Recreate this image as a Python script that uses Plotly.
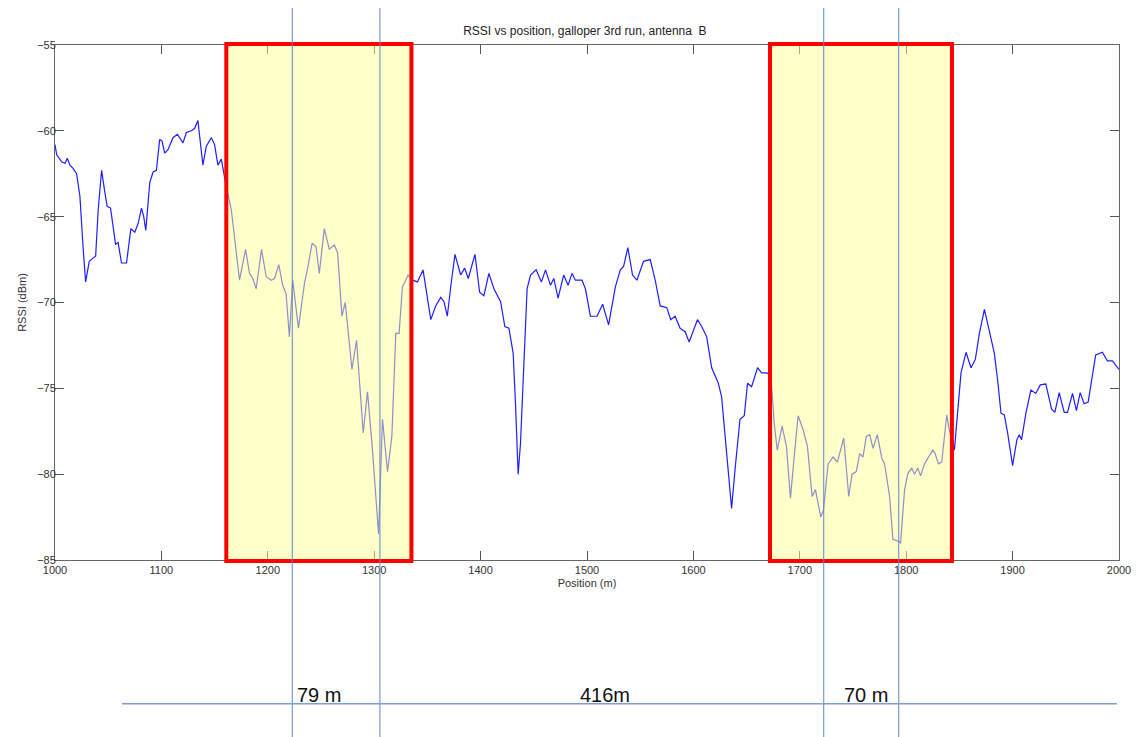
import plotly.graph_objects as go

# RSSI trace
position = [1000.0, 1001.6, 1006.3, 1009.4, 1011.5, 1014.1, 1017.2, 1020.3, 1023.4, 1025.6,
            1026.5, 1028.8, 1032.2, 1035.9, 1038.2, 1040.6, 1043.8, 1046.9, 1049.0, 1052.2,
            1054.7, 1056.9, 1059.3, 1062.5, 1067.2, 1071.3, 1075.0, 1078.1, 1081.3, 1083.4,
            1085.3, 1089.1, 1092.2, 1095.3, 1098.4, 1100.6, 1103.1, 1106.2, 1110.9, 1115.0,
            1120.3, 1123.5, 1128.2, 1131.3, 1134.3, 1136.9, 1139.0, 1142.2, 1146.9, 1150.0,
            1153.1, 1156.3, 1161.0, 1165.7, 1170.3, 1173.4, 1179.1, 1182.8, 1185.9, 1189.1,
            1194.1, 1198.5, 1203.2, 1206.3, 1210.3, 1214.0, 1217.2, 1220.3, 1223.4, 1228.8,
            1234.4, 1237.5, 1241.6, 1245.3, 1248.4, 1253.1, 1257.8, 1262.5, 1265.6, 1269.7,
            1272.8, 1279.1, 1283.4, 1289.7, 1293.7, 1298.4, 1304.1, 1307.8, 1312.5, 1316.6,
            1320.3, 1323.4, 1326.5, 1331.9, 1335.9, 1340.6, 1345.9, 1350.0, 1353.2, 1357.8,
            1362.5, 1365.6, 1368.7, 1371.9, 1375.9, 1381.3, 1385.0, 1388.4, 1394.7, 1399.1,
            1403.1, 1407.8, 1412.5, 1418.8, 1422.8, 1426.6, 1430.6, 1432.8, 1435.3, 1437.5,
            1440.6, 1443.7, 1446.9, 1452.2, 1457.2, 1461.0, 1465.7, 1468.8, 1472.8, 1478.1,
            1482.2, 1485.9, 1489.1, 1495.3, 1498.5, 1503.2, 1509.4, 1514.7, 1520.3, 1526.6,
            1531.3, 1534.4, 1538.4, 1542.8, 1546.9, 1553.1, 1559.4, 1564.1, 1568.8, 1575.0,
            1578.7, 1582.8, 1587.5, 1592.2, 1596.0, 1600.0, 1603.8, 1607.8, 1612.5, 1617.2,
            1623.4, 1626.5, 1631.2, 1635.9, 1639.1, 1643.8, 1647.8, 1650.9, 1654.7, 1660.3,
            1664.1, 1668.8, 1672.8, 1675.9, 1678.8, 1683.4, 1687.5, 1691.2, 1694.7, 1698.4,
            1703.1, 1707.2, 1711.6, 1714.7, 1719.7, 1722.2, 1726.6, 1731.3, 1735.3, 1741.3,
            1746.0, 1749.1, 1753.1, 1756.3, 1759.4, 1762.5, 1765.7, 1768.8, 1772.8, 1777.2,
            1779.7, 1784.4, 1787.5, 1792.2, 1794.7, 1798.5, 1801.6, 1805.3, 1807.8, 1810.9,
            1813.5, 1817.2, 1821.0, 1825.0, 1827.2, 1830.3, 1833.4, 1838.1, 1840.7, 1845.3,
            1851.5, 1856.2, 1860.9, 1865.0, 1868.8, 1873.5, 1877.2, 1882.8, 1885.9, 1889.1,
            1892.2, 1895.3, 1900.0, 1904.0, 1906.3, 1908.4, 1912.5, 1917.2, 1921.8, 1926.0,
            1931.2, 1936.6, 1939.7, 1943.8, 1948.5, 1951.6, 1956.3, 1960.0, 1963.5, 1967.2,
            1971.0, 1974.1, 1978.1, 1984.4, 1989.1, 1993.8, 2000.0]
rssi = [-60.8, -61.4, -61.8, -61.9, -61.6, -62.0, -62.2, -62.5, -63.8, -65.6,
        -66.9, -68.8, -67.6, -67.4, -67.3, -64.6, -62.3, -63.6, -64.4, -64.5,
        -65.6, -66.6, -66.5, -67.7, -67.7, -65.7, -65.9, -65.4, -64.5, -65.0,
        -65.8, -63.0, -62.4, -62.3, -60.5, -60.6, -61.3, -61.1, -60.4, -60.2,
        -60.7, -60.1, -60.0, -59.85, -59.4, -60.7, -62.0, -60.9, -60.4, -60.8,
        -62.0, -61.65, -63.25, -64.6, -66.9, -68.7, -66.9, -68.3, -68.6, -69.2,
        -66.9, -68.5, -68.7, -68.6, -67.8, -69.0, -69.5, -72.0, -68.7, -71.5,
        -68.9, -68.0, -66.55, -66.75, -68.3, -65.7, -66.9, -66.65, -67.1, -70.8,
        -70.0, -73.9, -72.2, -77.6, -75.2, -78.6, -83.5, -76.8, -79.85, -77.8,
        -71.8, -71.8, -69.1, -68.4, -68.7, -68.8, -68.1, -69.85, -71.0, -70.2,
        -69.7, -69.95, -70.8, -69.1, -67.2, -68.4, -68.0, -68.6, -67.2, -69.4,
        -69.6, -68.3, -69.2, -69.95, -71.4, -71.5, -72.95, -75.9, -80.0, -78.2,
        -73.9, -69.2, -68.4, -68.1, -68.8, -68.1, -69.0, -68.6, -69.75, -68.4,
        -69.0, -68.3, -68.7, -68.7, -69.2, -70.8, -70.8, -70.1, -71.3, -69.1,
        -68.1, -67.9, -66.8, -68.4, -68.7, -67.6, -67.5, -68.7, -70.2, -70.3,
        -71.0, -70.8, -71.5, -71.7, -72.3, -71.6, -71.0, -71.4, -72.0, -73.8,
        -74.7, -75.5, -78.6, -82.0, -79.75, -76.8, -76.6, -74.7, -74.9, -73.8,
        -74.1, -74.1, -74.2, -77.0, -78.6, -77.2, -78.4, -81.4, -79.0, -76.6,
        -77.4, -78.4, -81.3, -80.9, -82.5, -82.1, -79.4, -79.0, -79.3, -77.9,
        -81.3, -80.0, -79.85, -78.8, -79.0, -77.8, -77.7, -78.5, -77.7, -79.1,
        -79.4, -81.3, -83.8, -83.9, -84.0, -80.9, -79.95, -79.65, -80.0, -79.65,
        -80.1, -79.4, -79.0, -78.6, -78.8, -79.4, -79.3, -76.55, -77.5, -78.6,
        -74.1, -72.9, -73.8, -73.3, -71.8, -70.4, -71.4, -72.95, -74.5, -76.45,
        -76.55, -77.6, -79.5, -78.0, -77.7, -78.0, -76.45, -75.1, -75.3, -74.8,
        -74.75, -76.2, -76.4, -75.25, -76.4, -76.4, -75.3, -76.3, -75.25, -75.9,
        -75.8, -74.5, -73.05, -72.9, -73.4, -73.4, -73.9]

# highlighted regions (position ranges)
region_start = [1161, 1672]
region_end = [1335, 1843]

# marker lines and distance labels
marker_positions = [1223, 1305.4, 1722.5, 1793]
span_start, span_end = 1063, 1998
distance_labels = ["79 m", "416m", "70 m"]
distance_label_pos = [1248.5, 1516.5, 1762.3]

x_ticks = list(range(1000, 2001, 100))
y_ticks = list(range(-85, -54, 5))

fig = go.Figure()
fig.add_trace(go.Scatter(x=position, y=rssi, mode="lines",
                         line=dict(color="rgb(30,30,255)", width=1.2),
                         showlegend=False, hoverinfo="skip"))

shapes = []
for x0, x1 in zip(region_start, region_end):
    shapes.append(dict(type="rect", xref="x", yref="paper", x0=x0, x1=x1, y0=0, y1=1,
                       fillcolor="rgba(255,255,150,0.5)", line=dict(width=0), layer="above"))
    shapes.append(dict(type="rect", xref="x", yref="paper", x0=x0, x1=x1, y0=-0.002, y1=1.002,
                       fillcolor="rgba(0,0,0,0)", line=dict(color="#FF0000", width=4), layer="above"))
for xm in marker_positions:
    shapes.append(dict(type="line", xref="x", yref="paper", x0=xm, x1=xm, y0=-0.35, y1=1.072,
                       line=dict(color="#5B8BC9", width=1), layer="above"))
shapes.append(dict(type="line", xref="x", yref="paper", x0=span_start, x1=span_end,
                   y0=-0.279, y1=-0.279, line=dict(color="#7A9FD0", width=1.6), layer="above"))

annotations = []
for txt, xp in zip(distance_labels, distance_label_pos):
    annotations.append(dict(text=txt, x=xp, xref="x", y=-0.279, yref="paper",
                            xanchor="center", yanchor="bottom", showarrow=False, yshift=-4,
                            font=dict(family="Liberation Sans Narrow, Liberation Sans, Arial", size=20, color="#111")))

axis_font = dict(family="Liberation Sans, Arial", size=11, color="#333")
fig.update_layout(
    width=1143, height=737,
    margin=dict(l=55, r=21, t=45, b=177),
    paper_bgcolor="white", plot_bgcolor="white",
    shapes=shapes, annotations=annotations,
    title=dict(text="RSSI vs position, galloper 3rd run, antenna \u00a0B", x=0.498, xref="paper",
               y=1 - 31 / 737, yref="container", xanchor="center", yanchor="middle",
               font=dict(family="Liberation Sans, Arial", size=12, color="#222")),
    xaxis=dict(range=[1000, 2000], tickvals=x_ticks, ticks="inside", ticklen=9, tickcolor="#555",
               showline=True, linecolor="#666", linewidth=1, mirror="ticks", showgrid=False,
               zeroline=False, tickfont=axis_font,
               title=dict(text="Position (m)", font=axis_font, standoff=4)),
    yaxis=dict(range=[-85, -55], tickvals=y_ticks, ticks="inside", ticklen=9, tickcolor="#555",
               showline=True, linecolor="#666", linewidth=1, mirror="ticks", showgrid=False,
               zeroline=False, tickfont=axis_font, ticklabelstandoff=-4,
               title=dict(text="RSSI (dBm)", font=axis_font, standoff=8)),
)

fig.write_html("out.html")
